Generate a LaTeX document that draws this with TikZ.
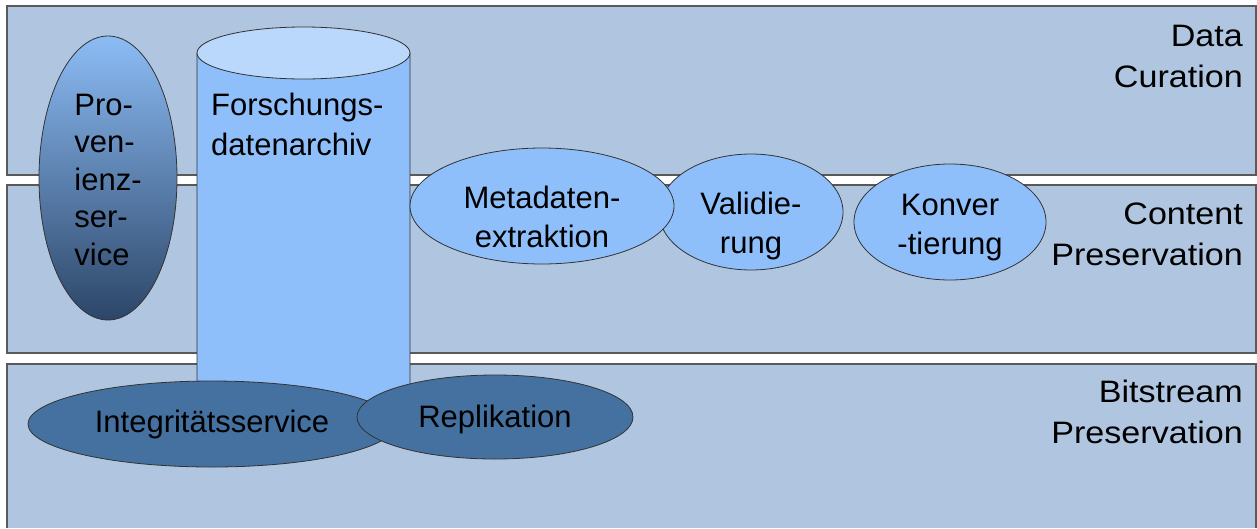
\documentclass[tikz,border=0pt]{standalone}
\usepackage{fontspec}
\setmainfont{Liberation Sans}
\newfontfamily\widefont[FakeStretch=1.1]{Liberation Sans}
\usetikzlibrary{shapes.geometric}
\definecolor{bandblue}{RGB}{176,198,224}
\definecolor{paleblue}{RGB}{143,191,250}
\definecolor{topblue}{RGB}{186,215,252}
\definecolor{deepblue}{RGB}{69,113,160}
\definecolor{provtop}{RGB}{140,188,245}
\definecolor{provbot}{RGB}{44,70,104}
\tikzset{
band/.style={fill=bandblue, draw=black!65, line width=1.2pt},
service/.style={ellipse, draw=black!80, line width=0.8pt, inner sep=0pt, align=center, text depth=0pt},
light/.style={service, fill=paleblue},
dark/.style={service, fill=deepblue},
layer/.style={anchor=north east, align=right, inner sep=0pt, font=\widefont\fontsize{31}{41}\selectfont}
}
\begin{document}
\begin{tikzpicture}[x=1pt, y=-1pt, font=\fontsize{31}{39}\selectfont]
\useasboundingbox (0,0) rectangle (1257,528);
\fill[white] (0,0) rectangle (1257,528);
\filldraw[band] (7,6) rectangle (1256,175);
\filldraw[band] (7,185) rectangle (1256,353);
\fill[bandblue] (7,364) rectangle (1256,528);
\draw[band] (7,528) -- (7,364) -- (1256,364) -- (1256,528);
\node[layer] (cur) at (1243,25) {Data\\Curation};
\node[layer] (cont) at (1243,203) {Content\\Preservation};
\node[layer] (bits) at (1243,380) {Bitstream\\Preservation};
\node[service, top color=provtop, bottom color=provbot, minimum width=138pt, minimum height=284pt,
align=left, text height=174pt, font=\fontsize{31}{37.5}\selectfont] (prov) at (108,178) {Pro-\\ven-\\ienz-\\ser-\\vice};
\filldraw[fill=paleblue, draw=black!80, line width=0.8pt] (197,53) -- (197,405)
arc[start angle=180, end angle=0, x radius=106.5, y radius=26] -- (410,53);
\filldraw[fill=topblue, draw=black!80, line width=0.8pt] (303.5,53) ellipse[x radius=106.5, y radius=26];
\node[anchor=base west, align=left, inner sep=0pt, font=\fontsize{31}{40}\selectfont] (arch) at (211,155) {Forschungs-\\datenarchiv};
\node[light, minimum width=184pt, minimum height=96pt, text height=82pt] (valid) at (751,212) {Validie-\\rung};
\node[light, minimum width=264pt, minimum height=106pt, text height=82pt] (meta) at (542,206) {Metadaten-\\extraktion};
\node[light, minimum width=192pt, minimum height=116pt, text height=64pt] (konv) at (950,222) {Konver\\-tierung};
\node[dark, minimum width=368pt, minimum height=86pt, text height=16pt] (integ) at (212,424) {Integritätsservice};
\node[dark, minimum width=276pt, minimum height=84pt, text height=20pt] (repl) at (495,417) {Replikation};
\end{tikzpicture}
\end{document}
